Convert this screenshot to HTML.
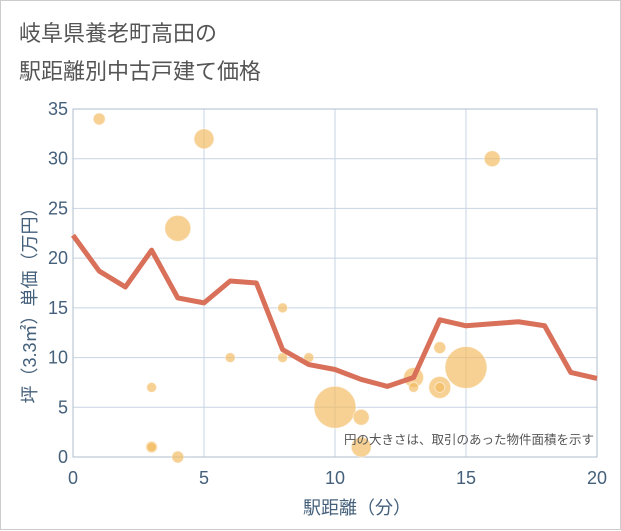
<!DOCTYPE html>
<html><head><meta charset="utf-8"><style>
body{margin:0;background:#fff;font-family:"Liberation Sans","Noto Sans CJK JP",sans-serif;}
#wrap{position:relative;width:619px;height:528px;border:1px solid #ccc;}
.t{position:absolute;left:18px;font-size:22px;color:#555;}
</style></head><body>
<div id="wrap">
<div class="t" style="top:15px">岐阜県養老町高田の</div>
<div class="t" style="top:53px">駅距離別中古戸建て価格</div>
<svg id="chart" width="621" height="530" style="position:absolute;left:0;top:0"></svg>
</div>
<script>
const xTicks=[0,5,10,15,20];
const yTicks=[0,5,10,15,20,25,30,35];
const lineX=[0,1,2,3,4,5,6,7,8,9,10,11,12,13,14,15,16,17,18,19,20];
const lineY=[22.3,18.7,17.1,20.8,16,15.5,17.7,17.5,10.8,9.3,8.8,7.8,7.1,8,13.8,13.2,13.4,13.6,13.2,8.5,7.9];
const bubX=[1,5,4,16,8,6,8,9,3,3,3,4,10,11,11,13,13,14,14,14,15];
const bubY=[34,32,23,30,15,10,10,10,7,1,1,0,5,4,1,8,7,7,7,11,9];
const bubR=[6,10,13,8,5,5,5,5,5,6,5,6,21,8,10,10,5,11,5,6,21];
const NS="http://www.w3.org/2000/svg";
const svg=document.getElementById('chart');
const L=72,R=596,T=108,B=456;
const sx=v=>L+(v-0)/(20-0)*(R-L);
const sy=v=>B-(v/35)*(B-T);
function mk(tag,attrs,parent){const e=document.createElementNS(NS,tag);for(const k in attrs)e.setAttribute(k,attrs[k]);(parent||svg).appendChild(e);return e;}
xTicks.forEach(v=>{
 const l=mk('line',{x1:sx(v),x2:sx(v),y1:T,y2:B,stroke:'#c8d4e3','stroke-width':1});
 
 
 const t=mk('text',{x:sx(v),y:B+27,'text-anchor':'middle','font-size':18,fill:'#44607a'});
 t.textContent=v;
 
 
});
yTicks.forEach(v=>{
 const l=mk('line',{x1:L,x2:R,y1:sy(v),y2:sy(v),stroke:'#c8d4e3','stroke-width':1});
 
 
 const t=mk('text',{x:L-5,y:sy(v)+6,'text-anchor':'end','font-size':18,fill:'#44607a'});
 t.textContent=v;
 
 
});
const fr=mk('rect',{x:L,y:T,width:R-L,height:B-T,fill:'none',stroke:'#b0bccb','stroke-width':1});


bubX.forEach((x,i)=>{
 const c=mk('circle',{cx:sx(x),cy:sy(bubY[i]),r:bubR[i],fill:'#f2b95a','fill-opacity':0.65,stroke:'#fff','stroke-opacity':0.5});
 
 
});
const p=mk('polyline',{points:lineX.map((x,i)=>sx(x)+','+sy(lineY[i])).join(' '),fill:'none',stroke:'#d9705a','stroke-width':5,'stroke-linejoin':'round'});


const note=mk('text',{x:593,y:443,'text-anchor':'end','font-size':12.5,fill:'#555'});
note.textContent='円の大きさは、取引のあった物件面積を示す';


const xt=mk('text',{x:356,y:513,'text-anchor':'middle','font-size':18,fill:'#44607a'});
xt.textContent='駅距離（分）';


const yt=mk('text',{x:0,y:0,'text-anchor':'middle','font-size':18,fill:'#44607a',transform:'translate(35,300) rotate(-90)'});
yt.textContent='坪（3.3㎡）単価（万円）';


</script>
</body></html>
